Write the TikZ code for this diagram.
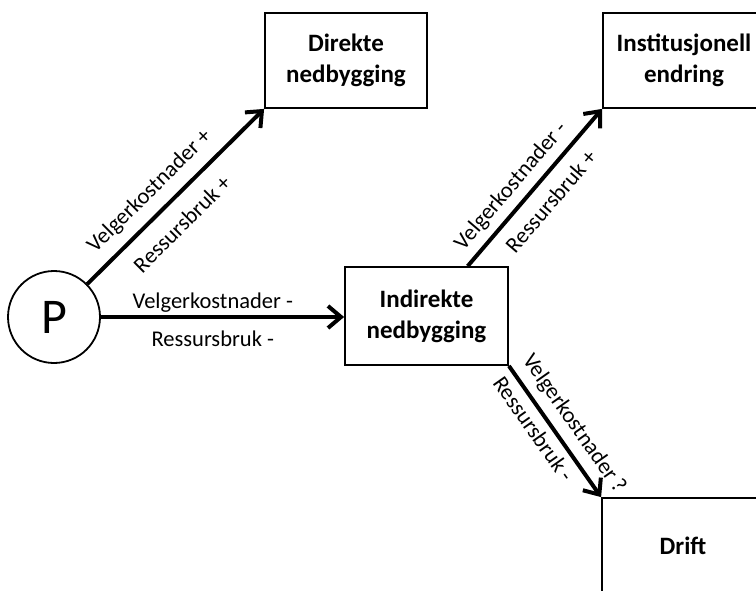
\documentclass[tikz,border=0pt]{standalone}
\usepackage{fontspec}
\setmainfont{Carlito}
\usetikzlibrary{arrows.meta,calc}

\tikzset{
  boks/.style={draw, line width=1.8pt, minimum width=162pt, minimum height=95pt,
    align=center, font=\fontsize{25}{31}\selectfont\bfseries},
  pil/.style={line width=4pt, -{Straight Barb[length=13pt,width=22pt]}},
  etikett/.style={sloped, inner sep=2pt, font=\fontsize{22.5}{27}\selectfont},
}

\begin{document}
\begin{tikzpicture}[x=1pt,y=-1pt]
    \useasboundingbox (0,0) rectangle (756,590);
    \clip (0,0) rectangle (756,590);

    \node[draw, circle, line width=1.8pt, minimum size=92pt, inner sep=0pt,
      font=\fontsize{50}{52}\selectfont] (P) at (54,317) {P};

    \node[boks] (direkte) at (346,60.5) {Direkte\\nedbygging};
    \node[boks] (institusjonell) at (684,60.5) {Institusjonell\\endring};
    \node[boks, minimum width=163pt, minimum height=98pt] (indirekte) at (426.5,316) {Indirekte\\nedbygging};
    \node[boks] (drift) at (683,545.5) {Drift};

    \coordinate (ut) at ($(indirekte.north west)!0.75!(indirekte.north east)$);

    \draw[pil] (P) -- (direkte.south west)
      node[etikett, above=8pt, pos=0.44] (v1) {Velgerkostnader +}
      node[etikett, below=12pt, pos=0.44] (r1) {Ressursbruk +};

    \draw[pil] (P.east) -- (P.east -| indirekte.west)
      node[etikett, above=1pt, pos=0.46] (v2) {Velgerkostnader -}
      node[etikett, below=10pt, pos=0.46] (r2) {Ressursbruk -};

    \draw[pil] (ut) -- (institusjonell.south west)
      node[etikett, above=5pt, pos=0.43] (v3) {Velgerkostnader -}
      node[etikett, below=9pt, pos=0.5] (r3) {Ressursbruk +};

    \draw[pil] (indirekte.south east) -- (drift.north west)
      node[etikett, above=6pt, pos=0.53] (v4) {Velgerkostnader ?}
      node[etikett, below=4pt, pos=0.41] (r4) {Ressursbruk -};
\end{tikzpicture}
\end{document}
